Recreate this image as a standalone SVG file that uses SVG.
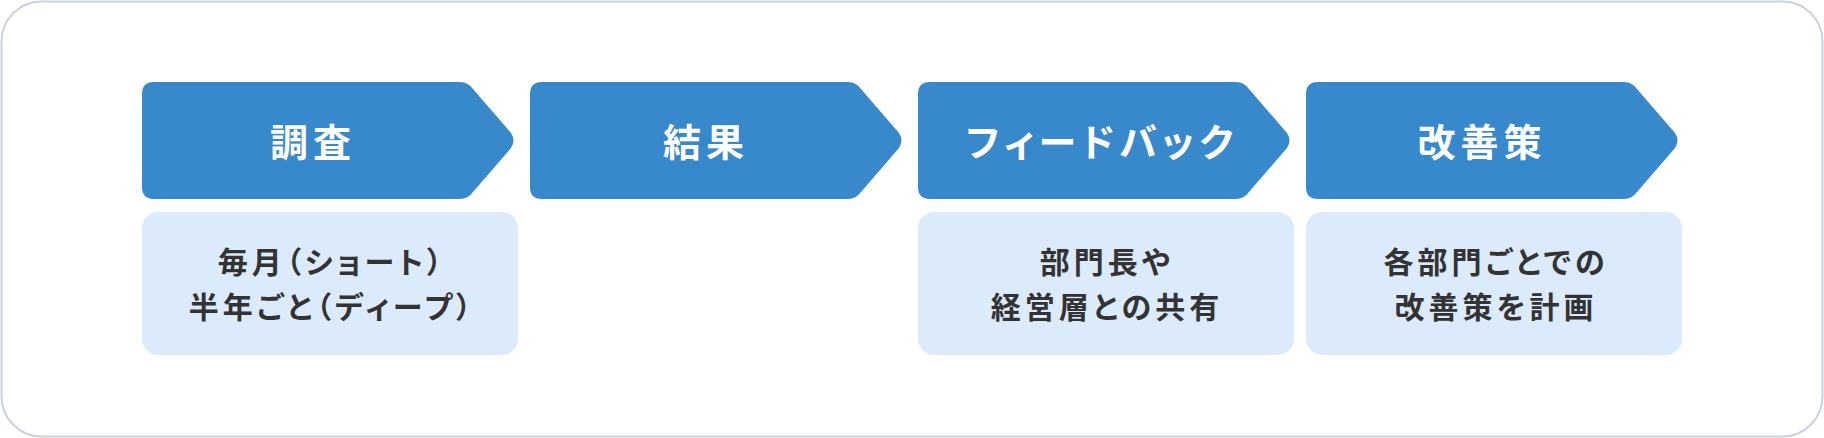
<svg xmlns="http://www.w3.org/2000/svg" width="1824" height="438" viewBox="0 0 1824 438">
<style>
.frame{fill:#ffffff;stroke:#c9d3df;stroke-width:2}
.step{fill:#3888cc}
.desc{fill:#dcebfc}
.t{font-family:"Noto Sans CJK JP","Noto Sans",sans-serif;font-weight:700;text-anchor:middle;font-feature-settings:"palt" 1}
.title{fill:#ffffff;font-size:38px;letter-spacing:5px}
.body{fill:#333333;font-size:30px;letter-spacing:4px}
</style>
<defs>
<path id="chev" d="M12,0 H318 Q326,0 331,7 L369,51 Q374,58.5 369,66 L331,110 Q326,117 318,117 H12 Q0,117 0,105 V12 Q0,0 12,0 Z"/>
</defs>
<rect class="frame" x="1.5" y="1.5" width="1821" height="435" rx="40"/>
<g id="connectors"/>
<g id="node-chosa">
<use href="#chev" class="step" x="142" y="82"/>
<text class="t title" x="313" y="156">調査</text>
</g>
<g id="desc-chosa">
<rect class="desc" x="142" y="212" width="376" height="143" rx="16"/>
<text class="t body" x="332" y="273">毎月（ショート）</text>
<text class="t body" x="332" y="318">半年ごと（ディープ）</text>
</g>
<g id="node-kekka">
<use href="#chev" class="step" x="530" y="82"/>
<text class="t title" x="706" y="156">結果</text>
</g>
<g id="node-feedback">
<use href="#chev" class="step" x="918" y="82"/>
<text class="t title" x="1102" y="156">フィードバック</text>
</g>
<g id="desc-feedback">
<rect class="desc" x="918" y="212" width="376" height="143" rx="16"/>
<text class="t body" x="1107" y="273">部門長や</text>
<text class="t body" x="1107" y="318">経営層との共有</text>
</g>
<g id="node-kaizen">
<use href="#chev" class="step" x="1306" y="82"/>
<text class="t title" x="1482" y="156">改善策</text>
</g>
<g id="desc-kaizen">
<rect class="desc" x="1306" y="212" width="376" height="143" rx="16"/>
<text class="t body" x="1496" y="273">各部門ごとでの</text>
<text class="t body" x="1496" y="318">改善策を計画</text>
</g>
</svg>
